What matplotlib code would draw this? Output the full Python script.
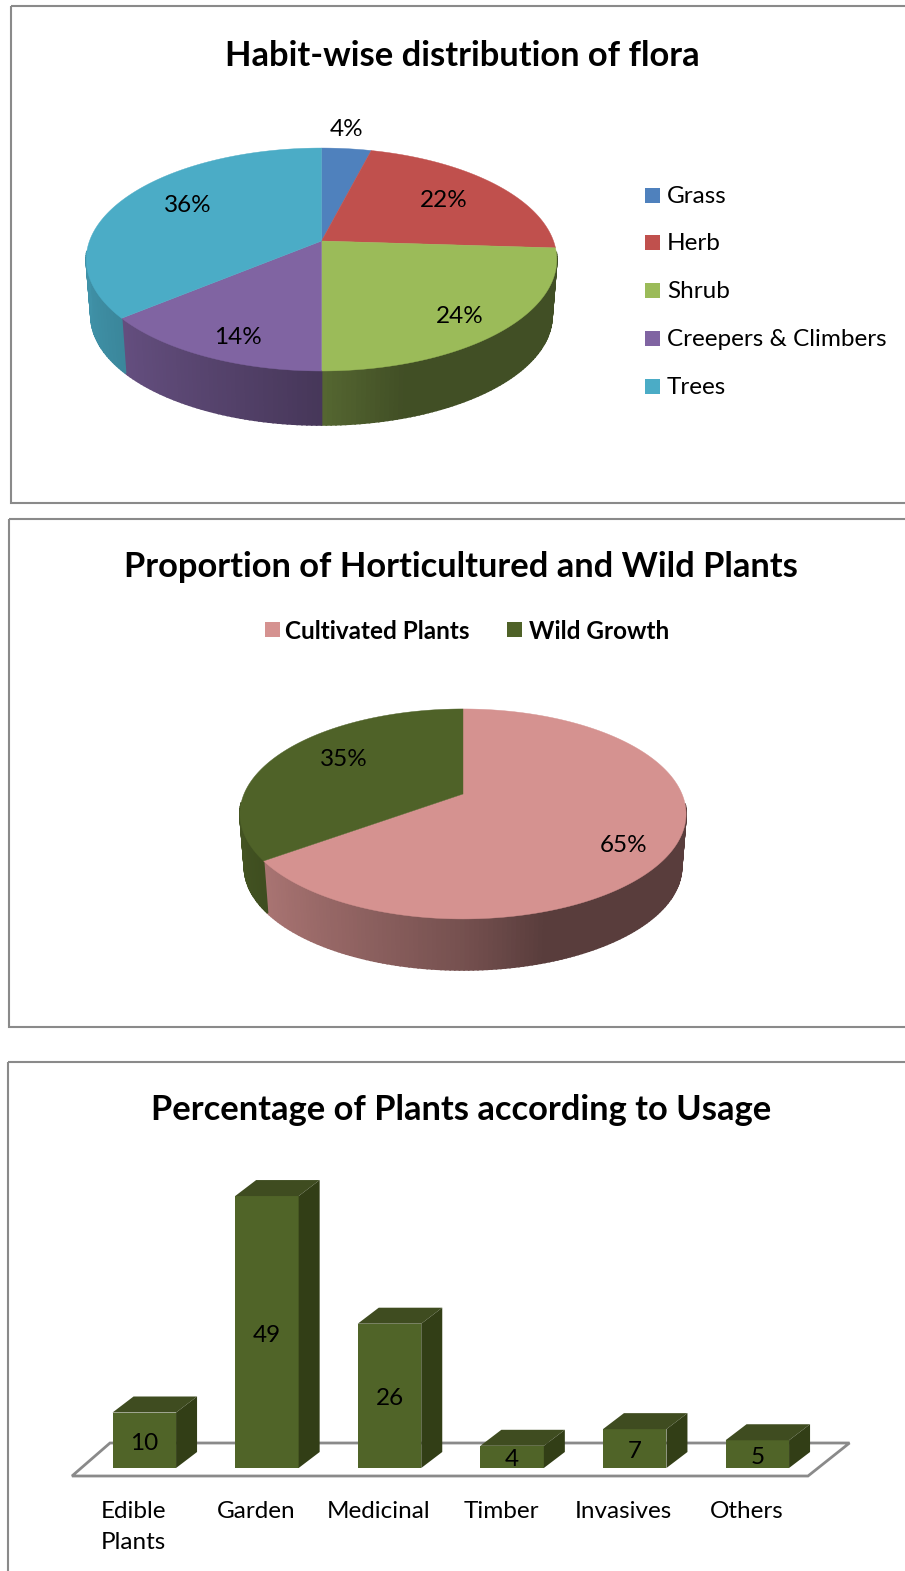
import numpy as np
import matplotlib
matplotlib.use("Agg")
import matplotlib.pyplot as plt
from matplotlib.patches import Rectangle, Polygon

plt.rcParams["font.family"] = ["Lato", "DejaVu Sans"]

# -------------------------
# DATA
# -------------------------
habit_names = ["Grass", "Herb", "Shrub", "Creepers & Climbers", "Trees"]
habit_values = [4, 22, 24, 14, 36]
habit_colors = ["#4f81bd", "#c0504d", "#9bbb59", "#8064a2", "#4bacc6"]

origin_names = ["Cultivated Plants", "Wild Growth"]
origin_values = [65, 35]
origin_colors = ["#d59290", "#4f6228"]

usage_names = ["Edible\nPlants", "Garden", "Medicinal", "Timber", "Invasives", "Others"]
usage_values = [10, 49, 26, 4, 7, 5]

W, H = 905, 1571
FRAME = "#8a8a8a"
TITLE_SIZE = 24.8
LABEL_SIZE = 17.5

fig = plt.figure(figsize=(W / 100, H / 100), dpi=100)
ax = fig.add_axes([0, 0, 1, 1])
ax.set_xlim(0, W)
ax.set_ylim(H, 0)
ax.axis("off")


def project(theta, cx, cy, a, s, k, scale=1.0, drop=0.0):
    # perspective view of a circle, theta runs clockwise from 12 o'clock
    X, Y = np.sin(theta), np.cos(theta)
    w = 1 + k * Y
    return cx + scale * a * X / w, cy + drop - scale * s * Y / w


def wall_shade(theta):
    return np.interp(np.sin(theta), [-1, 0, 0.3, 1], [0.85, 0.55, 0.42, 0.42])


def pie3d(values, colors, cx, cy, a, s, k, depth, scale=0.98):
    total = sum(values)
    edges = np.cumsum([0] + list(values)) / total * 2 * np.pi
    rgb = [np.array(matplotlib.colors.to_rgb(c)) for c in colors]

    # side wall, little quads so the shading can run along it
    for i in range(len(values)):
        t = np.linspace(edges[i], edges[i + 1], max(2, int(np.degrees(edges[i + 1] - edges[i]))))
        for t0, t1 in zip(t[:-1], t[1:]):
            if np.cos(t0) > -0.1 and np.cos(t1) > -0.1:
                continue
            x0, y0 = project(t0, cx, cy, a, s, k)
            x1, y1 = project(t1, cx, cy, a, s, k)
            x2, y2 = project(t1, cx, cy, a, s, k, scale, depth)
            x3, y3 = project(t0, cx, cy, a, s, k, scale, depth)
            col = rgb[i] * wall_shade((t0 + t1) / 2)
            ax.fill([x0, x1, x2, x3], [y0, y1, y2, y3], color=col, lw=1.2, zorder=2)

    # top face
    for i in range(len(values)):
        t = np.linspace(edges[i], edges[i + 1], 200)
        x, y = project(t, cx, cy, a, s, k)
        ax.fill(np.r_[cx, x], np.r_[cy, y], color=colors[i], lw=0.3, zorder=3)


# -------------------------
# FRAMES
# -------------------------
ax.add_patch(Rectangle((10.5, 6), 920, 497, fill=False, ec=FRAME, lw=1.5))
ax.add_patch(Rectangle((9, 519), 920, 507.5, fill=False, ec=FRAME, lw=1.5))
ax.add_patch(Rectangle((7.5, 1062), 920, 540, fill=False, ec=FRAME, lw=1.5))

# -------------------------
# CHART 1
# -------------------------
ax.text(462, 56, "Habit-wise distribution of flora", fontsize=TITLE_SIZE, fontweight="bold",
        ha="center", va="center")
pie3d(habit_values, habit_colors, 321.5, 241, 232, 108.4, 0.166, 56.6)

habit_label_xy = [(347, 129), (444, 200), (460, 316), (238, 337), (188, 205)]
for v, (x, y) in zip(habit_values, habit_label_xy):
    ax.text(x, y, f"{v}%", fontsize=LABEL_SIZE, ha="center", va="center", zorder=5)

legend_y = [195, 242, 290, 338, 386]
for name, col, y in zip(habit_names, habit_colors, legend_y):
    ax.add_patch(Rectangle((645, y - 7.5), 14.5, 15, fc=col, ec="none"))
    ax.text(667, y + 1, name, fontsize=LABEL_SIZE, ha="left", va="center")

# -------------------------
# CHART 2
# -------------------------
ax.text(461, 567, "Proportion of Horticultured and Wild Plants", fontsize=TITLE_SIZE,
        fontweight="bold", ha="center", va="center")
pie3d(origin_values, origin_colors, 463, 794, 219, 101.2, 0.19, 53.5)

origin_label_xy = [(624, 845), (344, 759)]
for v, (x, y) in zip(origin_values, origin_label_xy):
    ax.text(x, y, f"{v}%", fontsize=LABEL_SIZE, ha="center", va="center", zorder=5)

for name, col, sx, tx in zip(origin_names, origin_colors, [265, 507], [285, 529]):
    ax.add_patch(Rectangle((sx, 622), 14.5, 15, fc=col, ec="none"))
    ax.text(tx, 631, name, fontsize=LABEL_SIZE, fontweight="bold", ha="left", va="center")

# -------------------------
# CHART 3
# -------------------------
ax.text(461, 1110, "Percentage of Plants according to Usage", fontsize=TITLE_SIZE,
        fontweight="bold", ha="center", va="center")

slot = 122.6
unit = 5.55
left_px = 83.0
base_px = 1468.0
ymax = 60
ax3 = fig.add_axes([left_px / W, 1 - base_px / H, 6 * slot / W, ymax * unit / H])
ax3.set_xlim(-0.5, 5.5)
ax3.set_ylim(0, ymax)
ax3.axis("off")
ax3.patch.set_alpha(0)

positions = np.arange(len(usage_values))
bar_w = 0.518
dx = 21 / slot
dy = 16 / unit

# floor
floor_x = [(72 - left_px) / slot - 0.5, (808 - left_px) / slot - 0.5,
           (849.5 - left_px) / slot - 0.5, (110 - left_px) / slot - 0.5]
floor_y = [-8 / unit, -8 / unit, 25 / unit, 25 / unit]
ax3.add_patch(Polygon(list(zip(floor_x, floor_y)), closed=True, fc="white", ec=FRAME,
                      lw=2, clip_on=False, zorder=1))

ax3.bar(positions, usage_values, width=bar_w, color="#506428", zorder=3)
for p, v in zip(positions, usage_values):
    l, r = p - bar_w / 2, p + bar_w / 2
    ax3.add_patch(Polygon([(l, v), (r, v), (r + dx, v + dy), (l + dx, v + dy)],
                          closed=True, fc="#3f4c20", ec="none", zorder=3))
    ax3.add_patch(Polygon([(r, 0), (r + dx, dy), (r + dx, v + dy), (r, v)],
                          closed=True, fc="#323e16", ec="none", zorder=3))
    ax3.text(p, v / 2 - 3 / unit, str(v), fontsize=LABEL_SIZE, ha="center", va="center", zorder=5)
    ax3.text(p - 11 / slot, -33 / unit, usage_names[p], fontsize=LABEL_SIZE, ha="center", va="top",
             linespacing=1.6, clip_on=False)

fig.savefig("out.png", dpi=100)
